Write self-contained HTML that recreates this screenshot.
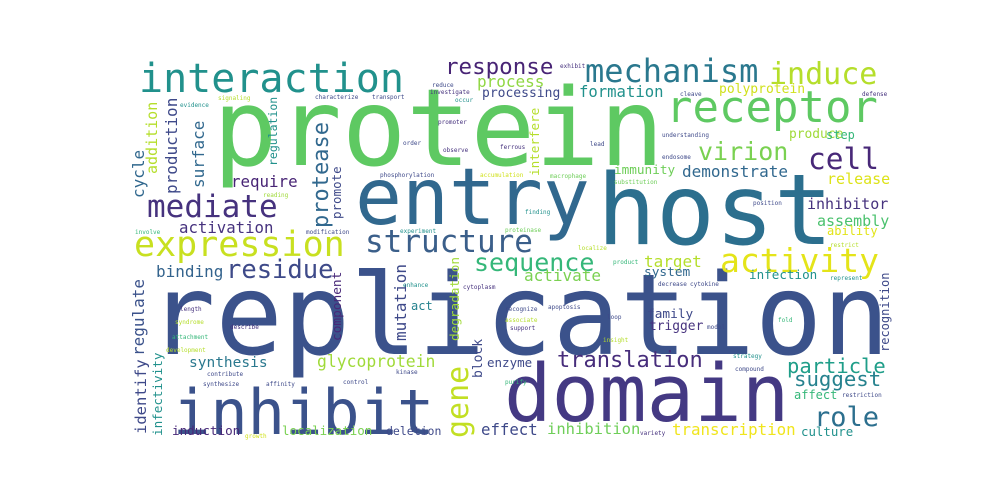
<!DOCTYPE html>
<html><head><meta charset="utf-8"><style>
html,body{margin:0;padding:0;background:#fff;}
#c{position:relative;width:1000px;height:500px;overflow:hidden;background:#fff;font-family:"DejaVu Sans Mono","Liberation Mono",monospace;}
#c span{position:absolute;white-space:nowrap;line-height:1;}
#c span.r{transform:rotate(-90deg);transform-origin:0 0;}
</style></head><body><div id="c">
<span style="left:148px;top:260px;font-size:112px;color:#3b528b">replication</span>
<span style="left:213px;top:76px;font-size:107px;color:#5ec962">protein</span>
<span style="left:355px;top:159px;font-size:78px;color:#31688e">entry</span>
<span style="left:597px;top:162px;font-size:98px;color:#2c6f8e">host</span>
<span style="left:504px;top:355px;font-size:79px;color:#443983">domain</span>
<span style="left:173px;top:382px;font-size:62px;color:#3b528b">inhibit</span>
<span style="left:139px;top:59px;font-size:40px;color:#21918c">interaction</span>
<span style="left:666px;top:86px;font-size:44px;color:#5ec962">receptor</span>
<span style="left:585px;top:55px;font-size:32px;color:#2a788e">mechanism</span>
<span style="left:769px;top:60px;font-size:30px;color:#b5de2b">induce</span>
<span style="left:134px;top:228px;font-size:35px;color:#c8e020">expression</span>
<span style="left:365px;top:227px;font-size:31px;color:#3b5f8a">structure</span>
<span style="left:147px;top:192px;font-size:31px;color:#46327e">mediate</span>
<span style="left:720px;top:244px;font-size:33px;color:#e4e419">activity</span>
<span style="left:474px;top:250px;font-size:25px;color:#35b779">sequence</span>
<span style="left:698px;top:139px;font-size:25px;color:#7ad151">virion</span>
<span style="left:808px;top:145px;font-size:29.5px;color:#482878">cell</span>
<span style="left:226px;top:258px;font-size:25.5px;color:#3e4a89">residue</span>
<span style="left:445px;top:56px;font-size:22.5px;color:#482475">response</span>
<span style="left:477px;top:74px;font-size:16px;color:#90d743">process</span>
<span style="left:482px;top:87px;font-size:13px;color:#3e4989">processing</span>
<span style="left:579px;top:85px;font-size:15.6px;color:#21918c">formation</span>
<span style="left:719px;top:83px;font-size:13px;color:#d0e11c">polyprotein</span>
<span style="left:682px;top:164px;font-size:16px;color:#31688e">demonstrate</span>
<span style="left:614px;top:164px;font-size:12.7px;color:#6ece58">immunity</span>
<span style="left:789px;top:129px;font-size:12.9px;color:#a0da39">produce</span>
<span style="left:826px;top:129px;font-size:12px;color:#35b779">step</span>
<span style="left:827px;top:172px;font-size:15px;color:#dde318">release</span>
<span style="left:807px;top:197px;font-size:15px;color:#46327e">inhibitor</span>
<span style="left:817px;top:214px;font-size:15px;color:#4ac16d">assembly</span>
<span style="left:827px;top:225px;font-size:12px;color:#e2e418">ability</span>
<span style="left:644px;top:254px;font-size:16px;color:#b5de2b">target</span>
<span style="left:524px;top:268px;font-size:16px;color:#7ad151">activate</span>
<span style="left:644px;top:267px;font-size:12.8px;color:#31688e">system</span>
<span style="left:749px;top:269px;font-size:12.6px;color:#21918c">infection</span>
<span style="left:647px;top:309px;font-size:12.8px;color:#3e4989">family</span>
<span style="left:649px;top:321px;font-size:12.9px;color:#46327e">trigger</span>
<span style="left:557px;top:350px;font-size:22px;color:#472d7b">translation</span>
<span style="left:787px;top:356px;font-size:20.5px;color:#1f9e89">particle</span>
<span style="left:794px;top:369px;font-size:20.7px;color:#26828e">suggest</span>
<span style="left:794px;top:389px;font-size:12px;color:#35b779">affect</span>
<span style="left:814px;top:404px;font-size:27px;color:#2c6f8e">role</span>
<span style="left:801px;top:426px;font-size:12.4px;color:#21918c">culture</span>
<span style="left:672px;top:422px;font-size:15.8px;color:#f0e51d">transcription</span>
<span style="left:547px;top:422px;font-size:15.5px;color:#6ece58">inhibition</span>
<span style="left:481px;top:422px;font-size:15.7px;color:#3e4989">effect</span>
<span style="left:386px;top:426px;font-size:11.5px;color:#3e4989">deletion</span>
<span style="left:282px;top:425px;font-size:12.5px;color:#7ad151">localization</span>
<span style="left:172px;top:425px;font-size:12.6px;color:#482878">induction</span>
<span style="left:189px;top:356px;font-size:14.5px;color:#2a788e">synthesis</span>
<span style="left:317px;top:354px;font-size:16.4px;color:#a0da39">glycoprotein</span>
<span style="left:156px;top:264px;font-size:16px;color:#33638d">binding</span>
<span style="left:411px;top:300px;font-size:12px;color:#26828e">act</span>
<span style="left:231px;top:174px;font-size:15.8px;color:#482475">require</span>
<span style="left:179px;top:220px;font-size:15.7px;color:#46327e">activation</span>
<span style="left:487px;top:357px;font-size:12.5px;color:#3e4989">enzyme</span>

<span class="r" style="left:444px;top:438px;font-size:30px;color:#c2df23">gene</span>
<span class="r" style="left:472px;top:378px;font-size:13px;color:#3e4989">block</span>
<span class="r" style="left:131px;top:356px;font-size:16px;color:#3b528b">regulate</span>
<span class="r" style="left:134px;top:434px;font-size:15.5px;color:#3e4989">identify</span>
<span class="r" style="left:152px;top:436px;font-size:12.6px;color:#21918c">infectivity</span>
<span class="r" style="left:332px;top:341px;font-size:12.8px;color:#482878">component</span>
<span class="r" style="left:393px;top:341px;font-size:16px;color:#3e4989">mutation</span>
<span class="r" style="left:449px;top:341px;font-size:12.7px;color:#a0da39">degradation</span>
<span class="r" style="left:131px;top:198px;font-size:16px;color:#31688e">cycle</span>
<span class="r" style="left:145px;top:174px;font-size:15px;color:#b5de2b">addition</span>
<span class="r" style="left:164px;top:194px;font-size:16px;color:#3e4989">production</span>
<span class="r" style="left:191px;top:188px;font-size:16px;color:#31688e">surface</span>
<span class="r" style="left:268px;top:166px;font-size:11.5px;color:#21918c">regulation</span>
<span class="r" style="left:311px;top:228px;font-size:22px;color:#31688e">protease</span>
<span class="r" style="left:331px;top:219px;font-size:12.5px;color:#3e4989">promote</span>
<span class="r" style="left:529px;top:176px;font-size:12.6px;color:#b5de2b">interfere</span>
<span class="r" style="left:879px;top:352px;font-size:12px;color:#3e4989">recognition</span>

<span style="left:180px;top:103px;font-size:6px;color:#21918c">evidence</span>
<span style="left:218px;top:96px;font-size:6px;color:#b5de2b">signaling</span>
<span style="left:315px;top:95px;font-size:6px;color:#3e4989">characterize</span>
<span style="left:372px;top:95px;font-size:6px;color:#3e4989">transport</span>
<span style="left:432px;top:83px;font-size:6px;color:#3e4989">reduce</span>
<span style="left:430px;top:90px;font-size:6px;color:#46327e">investigate</span>
<span style="left:455px;top:98px;font-size:6px;color:#21918c">occur</span>
<span style="left:560px;top:64px;font-size:6px;color:#46327e">exhibit</span>
<span style="left:438px;top:120px;font-size:6px;color:#46327e">promoter</span>
<span style="left:403px;top:141px;font-size:6px;color:#3e4989">order</span>
<span style="left:443px;top:148px;font-size:6px;color:#46327e">observe</span>
<span style="left:380px;top:173px;font-size:6px;color:#3e4989">phosphorylation</span>
<span style="left:480px;top:173px;font-size:6px;color:#d0e11c">accumulation</span>
<span style="left:263px;top:193px;font-size:6px;color:#a0da39">reading</span>
<span style="left:306px;top:230px;font-size:6px;color:#3e4989">modification</span>
<span style="left:135px;top:230px;font-size:6px;color:#35b779">involve</span>
<span style="left:400px;top:229px;font-size:6px;color:#21918c">experiment</span>
<span style="left:680px;top:92px;font-size:6px;color:#3e4989">cleave</span>
<span style="left:862px;top:92px;font-size:6px;color:#46327e">defense</span>
<span style="left:662px;top:133px;font-size:6px;color:#3e4989">understanding</span>
<span style="left:590px;top:142px;font-size:6px;color:#3e4989">lead</span>
<span style="left:500px;top:145px;font-size:6px;color:#46327e">ferrous</span>
<span style="left:662px;top:155px;font-size:6px;color:#3e4989">endosome</span>
<span style="left:550px;top:174px;font-size:6px;color:#6ece58">macrophage</span>
<span style="left:614px;top:180px;font-size:6px;color:#6ece58">substitution</span>
<span style="left:753px;top:201px;font-size:6px;color:#3e4989">position</span>
<span style="left:525px;top:210px;font-size:6px;color:#21918c">finding</span>
<span style="left:505px;top:228px;font-size:6px;color:#6ece58">proteinase</span>
<span style="left:578px;top:246px;font-size:6px;color:#b5de2b">localize</span>
<span style="left:613px;top:260px;font-size:6px;color:#35b779">product</span>
<span style="left:658px;top:282px;font-size:6px;color:#3e4989">decrease</span>
<span style="left:690px;top:282px;font-size:6px;color:#3e4989">cytokine</span>
<span style="left:830px;top:276px;font-size:6px;color:#21918c">represent</span>
<span style="left:830px;top:243px;font-size:6px;color:#b5de2b">restrict</span>
<span style="left:505px;top:307px;font-size:6px;color:#3e4989">recognize</span>
<span style="left:548px;top:305px;font-size:6px;color:#3e4989">apoptosis</span>
<span style="left:505px;top:318px;font-size:6px;color:#b5de2b">associate</span>
<span style="left:510px;top:326px;font-size:6px;color:#46327e">support</span>
<span style="left:603px;top:338px;font-size:6px;color:#b5de2b">insight</span>
<span style="left:607px;top:315px;font-size:6px;color:#3e4989">loop</span>
<span style="left:733px;top:354px;font-size:6px;color:#21918c">strategy</span>
<span style="left:735px;top:367px;font-size:6px;color:#3e4989">compound</span>
<span style="left:640px;top:431px;font-size:6px;color:#46327e">variety</span>
<span style="left:842px;top:393px;font-size:6px;color:#3e4989">restriction</span>
<span style="left:707px;top:325px;font-size:6px;color:#3e4989">model</span>
<span style="left:778px;top:318px;font-size:6px;color:#35b779">fold</span>
<span style="left:180px;top:307px;font-size:6px;color:#46327e">length</span>
<span style="left:175px;top:320px;font-size:6px;color:#b5de2b">syndrome</span>
<span style="left:172px;top:335px;font-size:6px;color:#35b779">attachment</span>
<span style="left:166px;top:348px;font-size:6px;color:#b5de2b">development</span>
<span style="left:230px;top:325px;font-size:6px;color:#46327e">describe</span>
<span style="left:207px;top:372px;font-size:6px;color:#3e4989">contribute</span>
<span style="left:203px;top:382px;font-size:6px;color:#3e4989">synthesize</span>
<span style="left:266px;top:382px;font-size:6px;color:#3e4989">affinity</span>
<span style="left:343px;top:380px;font-size:6px;color:#3e4989">control</span>
<span style="left:396px;top:370px;font-size:6px;color:#3e4989">kinase</span>
<span style="left:505px;top:380px;font-size:6px;color:#35b779">purify</span>
<span style="left:245px;top:434px;font-size:6px;color:#d0e11c">growth</span>
<span style="left:463px;top:285px;font-size:6px;color:#46327e">cytoplasm</span>
<span style="left:403px;top:283px;font-size:6px;color:#21918c">enhance</span>
</div></body></html>
